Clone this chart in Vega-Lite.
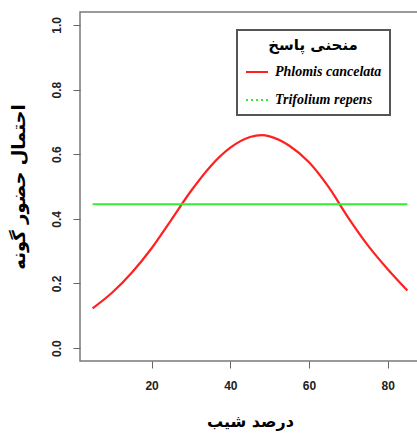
{
  "$schema": "https://vega.github.io/schema/vega-lite/v6.json",
  "width": 340,
  "height": 349,
  "autosize": {"type": "none"},
  "padding": {"left": 80, "top": 12, "right": 0, "bottom": 73},
  "background": "white",
  "config": {
    "view": {"stroke": "#7a7a7a", "strokeWidth": 1.5},
    "axis": {
      "grid": false,
      "domain": false,
      "tickColor": "#666",
      "tickSize": 7,
      "labelFont": "Liberation Sans",
      "labelFontSize": 12,
      "labelFontWeight": "bold",
      "labelColor": "#222",
      "titleFont": "DejaVu Sans",
      "titleFontSize": 16,
      "titleFontWeight": "bold",
      "titleColor": "#000"
    }
  },
  "data": {
    "values": [
      {"species": "Phlomis cancelata", "x": 5, "y": 0.123},
      {"species": "Phlomis cancelata", "x": 10, "y": 0.172},
      {"species": "Phlomis cancelata", "x": 15, "y": 0.234},
      {"species": "Phlomis cancelata", "x": 20, "y": 0.309},
      {"species": "Phlomis cancelata", "x": 25, "y": 0.397},
      {"species": "Phlomis cancelata", "x": 30, "y": 0.486},
      {"species": "Phlomis cancelata", "x": 35, "y": 0.563},
      {"species": "Phlomis cancelata", "x": 40, "y": 0.620},
      {"species": "Phlomis cancelata", "x": 45, "y": 0.653},
      {"species": "Phlomis cancelata", "x": 48, "y": 0.659},
      {"species": "Phlomis cancelata", "x": 50, "y": 0.655},
      {"species": "Phlomis cancelata", "x": 55, "y": 0.626},
      {"species": "Phlomis cancelata", "x": 60, "y": 0.575},
      {"species": "Phlomis cancelata", "x": 65, "y": 0.498},
      {"species": "Phlomis cancelata", "x": 70, "y": 0.403},
      {"species": "Phlomis cancelata", "x": 75, "y": 0.317},
      {"species": "Phlomis cancelata", "x": 80, "y": 0.244},
      {"species": "Phlomis cancelata", "x": 85, "y": 0.178},
      {"species": "Trifolium repens", "x": 5, "y": 0.445},
      {"species": "Trifolium repens", "x": 85, "y": 0.445}
    ]
  },
  "mark": {"type": "line", "strokeWidth": 2.2, "interpolate": "monotone"},
  "encoding": {
    "x": {
      "field": "x",
      "type": "quantitative",
      "scale": {"domain": [1.8, 88.2], "nice": false, "zero": false},
      "axis": {
        "values": [20, 40, 60, 80],
        "labelPadding": 12,
        "title": "درصد شیب",
        "titlePadding": 22
      }
    },
    "y": {
      "field": "y",
      "type": "quantitative",
      "scale": {"domain": [-0.04, 1.04], "nice": false, "zero": false},
      "axis": {
        "values": [0, 0.2, 0.4, 0.6, 0.8, 1.0],
        "format": ".1f",
        "labelAngle": -90,
        "labelAlign": "center",
        "labelBaseline": "bottom",
        "labelPadding": 10,
        "title": "احتمال حضور گونه",
        "titleFontSize": 18,
        "titlePadding": 22
      }
    },
    "color": {
      "field": "species",
      "type": "nominal",
      "scale": {"domain": ["Phlomis cancelata", "Trifolium repens"], "range": ["#ff2020", "#33ee33"]},
      "legend": {
        "title": "منحنی پاسخ",
        "orient": "none",
        "legendX": 157,
        "legendY": 18,
        "padding": 8,
        "strokeColor": "#555",
        "titleFont": "DejaVu Sans",
        "titleFontSize": 15,
        "titleFontWeight": "bold",
        "titleColor": "#000",
        "titleAnchor": "middle",
        "titleAlign": "center",
        "titlePadding": 7,
        "labelFont": "Liberation Serif",
        "labelFontSize": 14,
        "labelFontStyle": "italic",
        "labelFontWeight": "bold",
        "labelColor": "#000",
        "symbolType": "stroke",
        "symbolSize": 484,
        "symbolStrokeWidth": 2,
        "symbolOffset": 0,
        "rowPadding": 9,
        "labelOffset": 6,
        "encode": {
          "legend": {"update": {"strokeWidth": {"value": 2}}},
          "symbols": {"update": {"strokeDash": {"signal": "datum.value === 'Trifolium repens' ? [2, 3] : [1, 0]"}}}
        }
      }
    }
  }
}
